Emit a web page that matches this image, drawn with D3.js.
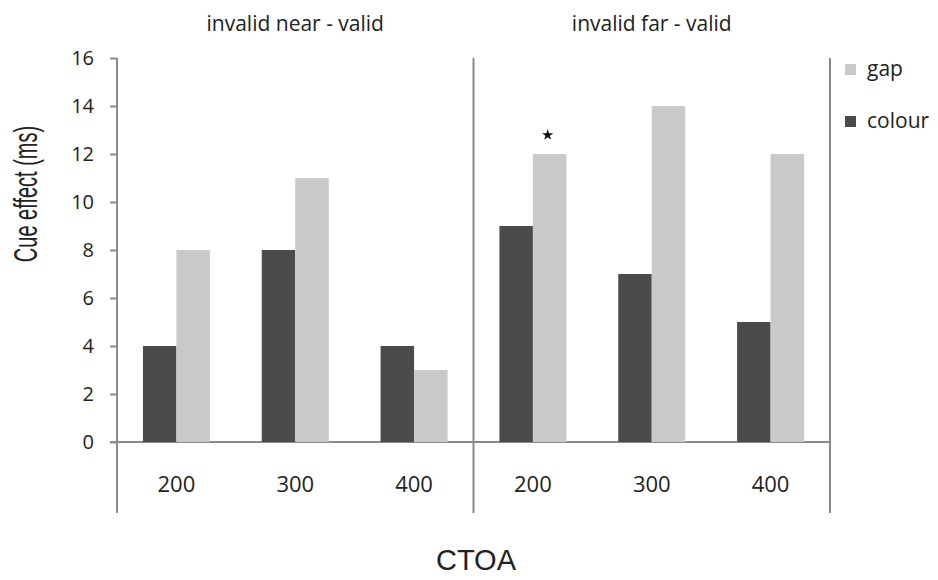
<!DOCTYPE html>
<html>
<head>
<meta charset="utf-8">
<script src="https://cdn.jsdelivr.net/npm/d3@7"></script>
<style>
  body { margin: 0; background: #fff; }
  text { fill: #222; }
</style>
</head>
<body>
<div class="chart-container"></div>
<script>
const panels = ['invalid near - valid', 'invalid far - valid'];
const ctoa = ['200', '300', '400'];
const series = ['colour', 'gap'];
const colourValues = [[4, 8, 4], [9, 7, 5]];
const gapValues = [[8, 11, 3], [12, 14, 12]];
const yTicks = [0, 2, 4, 6, 8, 10, 12, 14, 16];
const starMark = { panel: 1, cat: '200', series: 'gap' };

const width = 938, height = 580;
const margin = { top: 58, left: 117, right: 108, bottom: 138 };
const plotW = width - margin.left - margin.right;
const plotH = height - margin.top - margin.bottom;
const axisColor = '#8a8a8a';
const colors = d3.scaleOrdinal().domain(series).range(['#4b4b4b', '#c9c9c9']);

const svg = d3.select('.chart-container')
  .append('svg')
  .attr('width', width)
  .attr('height', height);

const g = svg.append('g').attr('transform', `translate(${margin.left},${margin.top})`);

const y = d3.scaleLinear().domain([0, 16]).range([plotH, 0]);
const panelScale = d3.scaleBand().domain(panels).range([0, plotW]);

// y axis ticks
const yAxis = d3.axisLeft(y).tickValues(yTicks).tickSize(7).tickPadding(16);
const ya = g.append('g').attr('class', 'y-axis').call(yAxis);
ya.select('.domain').remove();
ya.selectAll('.tick line').attr('stroke', axisColor).attr('stroke-width', 2);
ya.selectAll('.tick text')
  .style('font-family', '"Open Sans", sans-serif')
  .style('font-size', '20px')
  .style('fill', '#222');

// x baseline
g.append('line')
  .attr('x1', -7).attr('x2', plotW)
  .attr('y1', y(0)).attr('y2', y(0))
  .attr('stroke', axisColor).attr('stroke-width', 2);

// panel separators
const seps = [0, plotW / 2, plotW];
g.selectAll('.sep')
  .data(seps)
  .join('line')
  .attr('class', 'sep')
  .attr('x1', d => d).attr('x2', d => d)
  .attr('y1', 0).attr('y2', plotH + 71)
  .attr('stroke', axisColor).attr('stroke-width', 2);

panels.forEach((p, pi) => {
  const px = panelScale(p);
  const x = d3.scaleBand().domain(ctoa).range([px, px + panelScale.bandwidth()]);
  const barW = 33.5;
  const xs = d3.scaleBand().domain(series).range([0, barW * 2]);

  const rows = ctoa.map((c, i) => ({ cat: c, colour: colourValues[pi][i], gap: gapValues[pi][i] }));

  const grp = g.append('g').selectAll('g')
    .data(rows)
    .join('g')
    .attr('transform', d => `translate(${x(d.cat) + x.bandwidth() / 2 - barW},0)`);

  grp.selectAll('rect')
    .data(d => series.map(s => ({ key: s, value: d[s] })))
    .join('rect')
    .attr('x', d => xs(d.key))
    .attr('y', d => y(d.value))
    .attr('width', xs.bandwidth())
    .attr('height', d => y(0) - y(d.value))
    .attr('fill', d => colors(d.key));

  // category labels
  const xAxis = d3.axisBottom(x).tickSize(0).tickPadding(34);
  const xa = g.append('g').attr('transform', `translate(0,${y(0)})`).call(xAxis);
  xa.select('.domain').remove();
  xa.selectAll('.tick text')
    .style('font-family', '"Open Sans", sans-serif')
    .style('font-size', '22px')
    .style('fill', '#222');

  // panel title
  svg.append('text')
    .attr('x', margin.left + px + panelScale.bandwidth() / 2)
    .attr('y', 31)
    .attr('text-anchor', 'middle')
    .style('font-family', '"Open Sans", sans-serif')
    .style('font-size', '21px')
    .text(p);

  if (pi === starMark.panel) {
    const v = gapValues[pi][ctoa.indexOf(starMark.cat)];
    g.append('path')
      .attr('d', d3.symbol(d3.symbolStar, 40)())
      .attr('transform', `translate(${x(starMark.cat) + x.bandwidth() / 2 + barW / 2 - 2},${y(v) - 19})`)
      .attr('fill', '#111');
  }
});

// legend
const legendOrder = ['gap', 'colour'];
const leg = svg.append('g').attr('transform', 'translate(845,64)');
const li = leg.selectAll('g')
  .data(legendOrder)
  .join('g')
  .attr('transform', (d, i) => `translate(0,${i * 52})`);
li.append('rect')
  .attr('width', 11).attr('height', 11)
  .attr('fill', d => colors(d));
li.append('text')
  .attr('x', 22).attr('y', 12)
  .style('font-family', '"Open Sans", sans-serif')
  .style('font-size', '21px')
  .text(d => d);

// axis titles
svg.append('text')
  .attr('transform', 'translate(37,194) scale(1.7,1) rotate(-90)')
  .attr('text-anchor', 'middle')
  .style('font-family', '"Liberation Sans", Arial, sans-serif')
  .style('font-size', '20px')
  .text('Cue effect (ms)');

svg.append('text')
  .attr('x', 476)
  .attr('y', 570)
  .attr('text-anchor', 'middle')
  .style('font-family', '"Liberation Sans", Arial, sans-serif')
  .style('font-size', '29px')
  .text('CTOA');
</script>
</body>
</html>
